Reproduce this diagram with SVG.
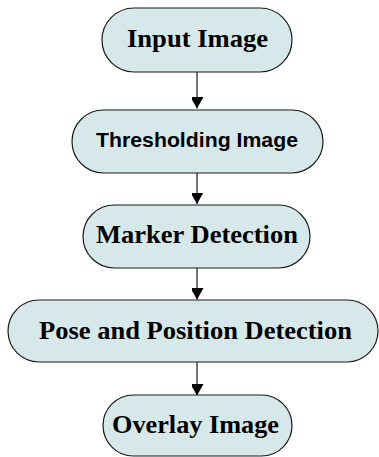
<svg xmlns="http://www.w3.org/2000/svg" width="379" height="457" viewBox="0 0 379 457">
  <style>
    .box { fill: #d7e8ea; stroke: #1a1a1a; stroke-width: 1.2; }
    .serif { font-family: "Liberation Serif", "Times New Roman", serif; font-weight: bold; font-size: 25px; fill: #000; }
    .sans { font-family: "Liberation Sans", Arial, sans-serif; font-weight: bold; font-size: 20px; fill: #000; }
    .link { stroke: #1a1a1a; stroke-width: 1.2; fill: none; marker-end: url(#arrow); }
  </style>
  <defs>
    <!-- solid triangular head, tip at the end of the line -->
    <marker id="arrow" markerUnits="userSpaceOnUse" markerWidth="14" markerHeight="12" viewBox="0 0 14 12" refX="11.5" refY="7" orient="auto">
      <polygon points="0,0.5 0,13.5 11.5,7" fill="#000"/>
    </marker>
  </defs>
  <rect width="379" height="457" fill="#fff"/>

  <g id="connectors">
    <line class="link" x1="197" y1="72" x2="197" y2="108.5"/>
    <line class="link" x1="197" y1="173" x2="197" y2="204"/>
    <line class="link" x1="197" y1="268" x2="197" y2="299.5"/>
    <line class="link" x1="197" y1="362" x2="197" y2="395.5"/>
  </g>

  <g id="input-image">
    <rect class="box" x="102" y="8" width="190" height="64" rx="32" ry="32"/>
    <text class="serif" x="197.5" y="47" text-anchor="middle" textLength="141" lengthAdjust="spacingAndGlyphs">Input Image</text>
  </g>

  <g id="thresholding-image">
    <rect class="box" x="72" y="110" width="251" height="63" rx="31.5" ry="31.5"/>
    <text class="sans" x="197" y="147" text-anchor="middle" textLength="202" lengthAdjust="spacingAndGlyphs">Thresholding Image</text>
  </g>

  <g id="marker-detection">
    <rect class="box" x="83" y="205" width="227" height="63" rx="31.5" ry="31.5"/>
    <text class="serif" x="197" y="242.5" text-anchor="middle" textLength="202" lengthAdjust="spacingAndGlyphs">Marker Detection</text>
  </g>

  <g id="pose-position-detection">
    <rect class="box" x="8" y="300" width="370" height="62" rx="31" ry="31"/>
    <text class="serif" x="195.5" y="339" text-anchor="middle" textLength="313" lengthAdjust="spacingAndGlyphs">Pose and Position Detection</text>
  </g>

  <g id="overlay-image">
    <rect class="box" x="103" y="395" width="189" height="61" rx="30.5" ry="30.5"/>
    <text class="serif" x="195.5" y="432.5" text-anchor="middle" textLength="167" lengthAdjust="spacingAndGlyphs">Overlay Image</text>
  </g>
</svg>
